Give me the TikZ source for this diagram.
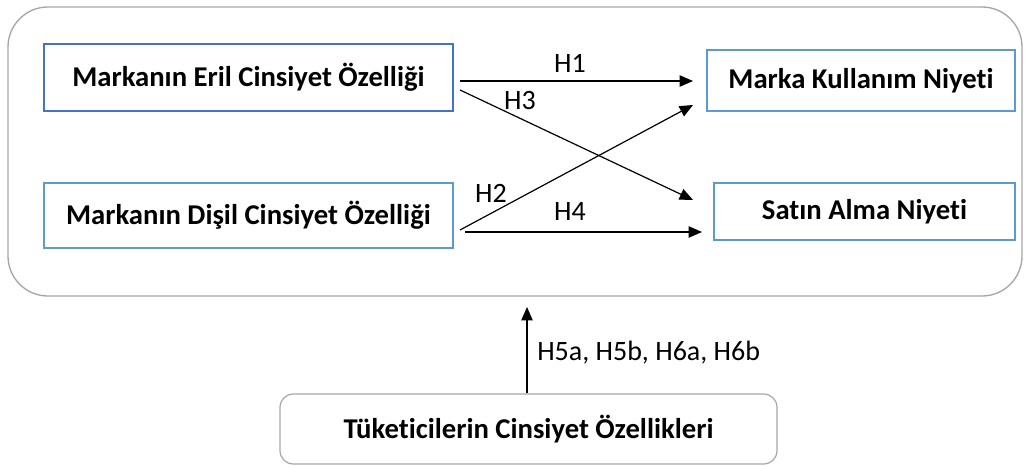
\documentclass[tikz,border=0pt]{standalone}
\usepackage{fontspec}
\setmainfont{Carlito}[Ligatures={NoCommon}]
\usetikzlibrary{arrows.meta}
\definecolor{boxblueA}{HTML}{4472C4}
\definecolor{boxblueB}{HTML}{5B9BD5}
\definecolor{outergray}{HTML}{A6A6A6}
\begin{document}
\begin{tikzpicture}[x=0.75pt,y=-0.75pt,
  vbox/.style={draw=boxblueB,line width=0.9pt,minimum height=#1,inner sep=0pt,font=\fontsize{21.5}{25}\selectfont\bfseries},
  arr/.style={line width=0.9pt,-{Triangle[length=10pt,width=8.5pt]}},
  lab/.style={font=\fontsize{21}{25}\selectfont,inner sep=0pt}]
\useasboundingbox (0,0) rectangle (1031,467);
\draw[outergray,line width=1pt,rounded corners=30pt] (8,7) rectangle (1022,296);
\node[vbox=67*0.75pt,draw=boxblueA,minimum width=409*0.75pt] (eril) at (248.5,77.5) {Markanın Eril Cinsiyet Özelliği};
\node[vbox=65*0.75pt,minimum width=409*0.75pt] (disil) at (248.5,215.5) {Markanın Dişil Cinsiyet Özelliği};
\node[vbox=61*0.75pt,minimum width=308*0.75pt] (kull) at (861,80.5) {Marka Kullanım Niyeti};
\node[vbox=57*0.75pt,minimum width=301*0.75pt] (satin) at (864.5,211.5) {Satın Alma Niyeti};
\node[draw=outergray,line width=0.9pt,rounded corners=10pt,minimum width=497*0.75pt,minimum height=70*0.75pt,inner sep=0pt,font=\fontsize{21.5}{25}\selectfont\bfseries] (tuk) at (528.5,429) {Tüketicilerin Cinsiyet Özellikleri};
\coordinate (e1) at (460,81);
\coordinate (e3) at (460,90);
\coordinate (d2) at (460,230);
\coordinate (d4) at (465,232);
\coordinate (k1) at (693,81);
\coordinate (k2) at (693,105);
\coordinate (s3) at (693,200);
\coordinate (s4) at (702,232);
\coordinate (up) at (527,307);
\draw[arr] (e1) -- (k1);
\draw[arr] (e3) -- (s3);
\draw[arr] (d2) -- (k2);
\draw[arr] (d4) -- (s4);
\draw[arr] (tuk.north -| up) -- (up);
\node[lab] (h1) at (570,63) {H1};
\node[lab] (h3) at (520,101) {H3};
\node[lab] (h2) at (491,193) {H2};
\node[lab] (h4) at (570,212) {H4};
\node[lab,anchor=west] (h5) at (537,353) {H5a, H5b, H6a, H6b};
\end{tikzpicture}
\end{document}
